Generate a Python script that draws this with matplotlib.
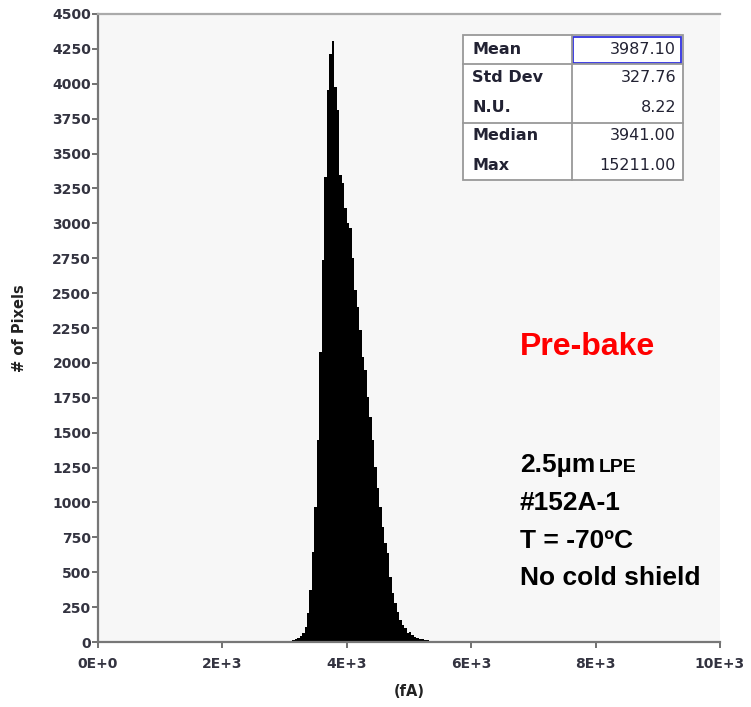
import numpy as np
import matplotlib
matplotlib.use("Agg")
from matplotlib import pyplot as plt
from matplotlib.patches import Rectangle
from matplotlib.lines import Line2D

# histogram counts, 40 fA bins starting at 3040 fA
bin_start = 3040
bin_width = 40
counts = [3, 8, 15, 18, 26, 40, 65, 110, 207, 372, 647, 970, 1447, 2080, 2737,
          3334, 3955, 4213, 4309, 3979, 3812, 3346, 3287, 3107, 3002, 2964, 2752,
          2522, 2403, 2236, 2044, 1949, 1758, 1614, 1447, 1256, 1101, 970, 826,
          707, 636, 468, 349, 277, 217, 158, 122, 98, 62, 74, 50, 38, 30, 20, 18,
          15, 12, 10, 8, 6, 5, 4]

xticks = [0, 2000, 4000, 6000, 8000, 10000]
xtick_labels = ['0E+0', '2E+3', '4E+3', '6E+3', '8E+3', '10E+3']
yticks = list(range(0, 4501, 250))

stat_names = ['Mean', 'Std Dev', 'N.U.', 'Median', 'Max']
stat_values = ['3987.10', '327.76', '8.22', '3941.00', '15211.00']

info_lines = ['#152A-1', 'T = -70ºC', 'No cold shield']

W, H = 751, 707
def fx(x):
    return x / W
def fy(y):
    return 1 - y / H

fig = plt.figure(figsize=(W / 100, H / 100), dpi=100)
ax = fig.add_axes([fx(98), fy(642), 622 / W, 628 / H])
ax.set_facecolor('#f7f7f7')

lefts = bin_start + bin_width * np.arange(len(counts))
ax.bar(lefts, counts, width=bin_width, align='edge', color='black', linewidth=0)

ax.set_xlim(0, 10000)
ax.set_ylim(0, 4500)
ax.set_xticks(xticks)
ax.set_xticklabels(xtick_labels)
ax.set_yticks(yticks)
ax.set_yticklabels([str(v) for v in yticks])

tick_font = dict(family='DejaVu Sans', weight='bold', size=10, color='#333340')
for lab in ax.get_xticklabels() + ax.get_yticklabels():
    lab.set(**tick_font)
ax.tick_params(axis='both', direction='out', length=4, width=1.3, color='#666666')
ax.tick_params(axis='x', pad=7)
ax.tick_params(axis='y', pad=1)

for s in ['left', 'bottom']:
    ax.spines[s].set_color('#777777')
    ax.spines[s].set_linewidth(1.6)
ax.spines['top'].set_color('#aaaaaa')
ax.spines['top'].set_linewidth(1.6)
ax.spines['right'].set_visible(False)

ax.set_xlabel('(fA)', fontfamily='DejaVu Sans', fontweight='bold', fontsize=10.5,
              color='#222222', labelpad=9)
ax.set_ylabel('# of Pixels', fontfamily='DejaVu Sans', fontweight='bold', fontsize=10.5,
              color='#222222', labelpad=18)

# stats table
fig.patches.append(Rectangle((fx(463), fy(180)), 220 / W, 145 / H, transform=fig.transFigure,
                             facecolor='white', edgecolor='#999999', linewidth=1.3))
for ln in [([572, 572], [35, 180]), ([463, 683], [64, 64]), ([463, 683], [123, 123])]:
    fig.lines.append(Line2D([fx(v) for v in ln[0]], [fy(v) for v in ln[1]],
                            transform=fig.transFigure, color='#999999', linewidth=1.3))
fig.patches.append(Rectangle((fx(573), fy(63)), 108 / W, 26 / H, transform=fig.transFigure,
                             facecolor='none', edgecolor='#3030e0', linewidth=1.3))
row_y = [50, 78, 107, 135, 165]
for name, val, y in zip(stat_names, stat_values, row_y):
    fig.text(fx(472), fy(y), name, ha='left', va='center', family='DejaVu Sans',
             weight='bold', size=11.5, color='#222233')
    fig.text(fx(676), fy(y), val, ha='right', va='center', family='DejaVu Sans',
             size=11.5, color='#222233')

# annotations
fig.text(fx(520), fy(355), 'Pre-bake', ha='left', va='baseline', family='Liberation Sans',
         weight='bold', size=23, color='#ff0000')
t1 = fig.text(fx(520), fy(472), '2.5µm', ha='left', va='baseline', family='Liberation Sans',
              weight='bold', size=19, color='black')
fig.canvas.draw()
bb = t1.get_window_extent()
fig.text(bb.x1 / W + 3 / W, fy(472), 'LPE', ha='left', va='baseline', family='Liberation Sans',
         weight='bold', size=14, color='black')
for txt, y in zip(info_lines, [510, 548, 585]):
    fig.text(fx(520), fy(y), txt, ha='left', va='baseline', family='Liberation Sans',
             weight='bold', size=19, color='black')

fig.savefig('out.png', dpi=100)
